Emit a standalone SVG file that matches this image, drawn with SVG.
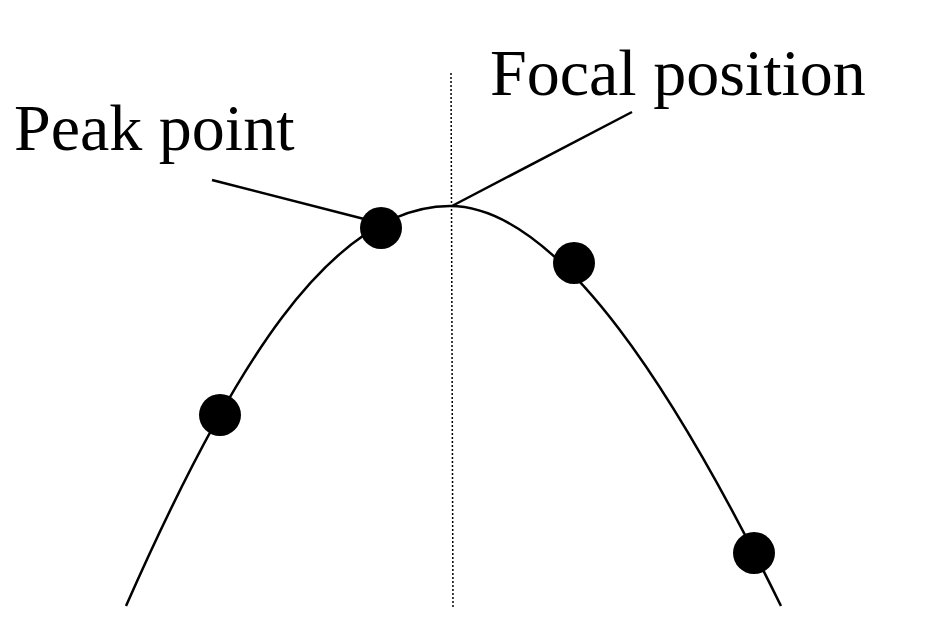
<svg xmlns="http://www.w3.org/2000/svg" width="928" height="643" viewBox="0 0 928 643">
<style>
.t{font-family:"Liberation Serif",serif;font-size:66px;fill:#000}
.l{stroke:#000;stroke-width:2.5;fill:none}
.d{fill:#000}
</style>
<rect width="928" height="643" fill="#fff"/>
<g id="connectors">
<path class="l" d="M126,606 C230,370 330,206 450,206 C560,206 680,400 781,606"/>
<line x1="451" y1="73" x2="453" y2="607" stroke="#000" stroke-width="1.5" stroke-dasharray="2,2"/>
<line class="l" x1="212" y1="180" x2="372" y2="221"/>
<line class="l" x1="452" y1="206" x2="632" y2="112"/>
</g>
<g id="dots">
<circle class="d" cx="220" cy="415" r="21"/>
<circle class="d" cx="381" cy="228" r="21"/>
<circle class="d" cx="574" cy="263" r="21"/>
<circle class="d" cx="754" cy="553" r="21"/>
</g>
<g id="labels">
<text class="t" x="14" y="150">Peak point</text>
<text class="t" x="490" y="95">Focal position</text>
</g>
</svg>
